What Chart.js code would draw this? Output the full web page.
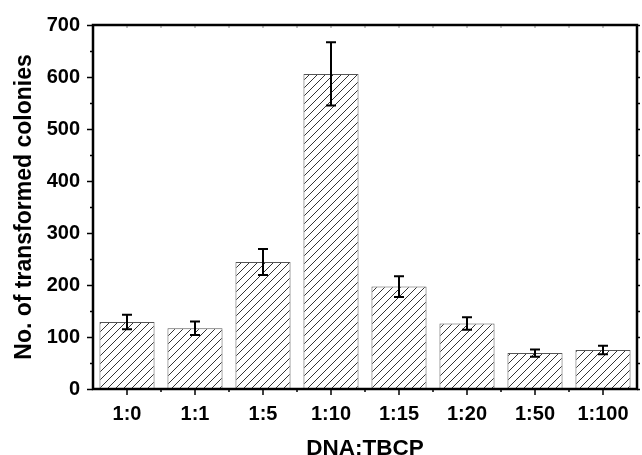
<!DOCTYPE html>
<html>
<head>
<meta charset="utf-8">
<script src="https://cdn.jsdelivr.net/npm/chart.js@4.4.0/dist/chart.umd.min.js"></script>
<style>
  html, body { margin: 0; padding: 0; background: #fff; }
  #wrap { width: 642px; height: 455px; }
</style>
</head>
<body>
<div id="wrap"><canvas id="myChart" width="642" height="455"></canvas></div>
<script>
// data
const ratios = ['1:0', '1:1', '1:5', '1:10', '1:15', '1:20', '1:50', '1:100'];
const colonies = [129, 117, 244, 606, 197, 126, 69, 75];
const errors = [14, 13, 25, 61, 20, 12, 7, 8];
const yTicks = [0, 100, 200, 300, 400, 500, 600, 700];

const FONT = "'Liberation Sans', Arial, sans-serif";

// diagonal hatch "/"
function makeHatch() {
  const c = document.createElement('canvas');
  c.width = 8; c.height = 8;
  const g = c.getContext('2d');
  g.fillStyle = '#fff';
  g.fillRect(0, 0, 8, 8);
  g.strokeStyle = '#000';
  g.lineWidth = 0.8;
  g.beginPath();
  g.moveTo(0, 8); g.lineTo(8, 0);
  g.moveTo(-2, 2); g.lineTo(2, -2);
  g.moveTo(6, 10); g.lineTo(10, 6);
  g.stroke();
  return document.getElementById('myChart').getContext('2d').createPattern(c, 'repeat');
}

// error bars drawn from the y scale
const errorBars = {
  id: 'errorBars',
  afterDatasetsDraw(chart) {
    const ctx = chart.ctx;
    const y = chart.scales.y;
    const meta = chart.getDatasetMeta(0);
    ctx.save();
    ctx.strokeStyle = '#000';
    ctx.lineWidth = 2;
    meta.data.forEach((bar, i) => {
      const top = y.getPixelForValue(colonies[i] + errors[i]);
      const bot = y.getPixelForValue(colonies[i] - errors[i]);
      ctx.beginPath();
      ctx.moveTo(bar.x, top); ctx.lineTo(bar.x, bot);
      ctx.moveTo(bar.x - 5, top); ctx.lineTo(bar.x + 5, top);
      ctx.moveTo(bar.x - 5, bot); ctx.lineTo(bar.x + 5, bot);
      ctx.stroke();
    });
    ctx.restore();
  }
};

// box frame with Origin-style tick marks
const frame = {
  id: 'frame',
  afterDraw(chart) {
    const ctx = chart.ctx;
    const a = chart.chartArea;
    const x = chart.scales.x, y = chart.scales.y;
    ctx.save();
    ctx.strokeStyle = '#000';
    ctx.lineWidth = 1.5;
    for (let v = 0; v <= 700; v += 50) {
      const p = Math.round(y.getPixelForValue(v)) + 0.5;
      const len = v % 100 === 0 ? 6 : 3;
      ctx.beginPath();
      ctx.moveTo(a.left - len, p); ctx.lineTo(a.left, p);
      ctx.moveTo(a.right, p); ctx.lineTo(a.right + 3, p);
      ctx.stroke();
    }
    const w = (a.right - a.left) / ratios.length;
    for (let i = 0; i < ratios.length; i++) {
      const c = x.getPixelForValue(i);
      ctx.beginPath();
      ctx.moveTo(c, a.bottom); ctx.lineTo(c, a.bottom + 6);
      ctx.stroke();
      if (i > 0) {
        const b = c - w / 2;
        ctx.beginPath();
        ctx.moveTo(b, a.bottom); ctx.lineTo(b, a.bottom + 3);
        ctx.stroke();
      }
    }
    ctx.strokeStyle = '#888';
    ctx.lineWidth = 1;
    for (let i = 0; i < ratios.length; i++) {
      const c = x.getPixelForValue(i);
      ctx.beginPath();
      ctx.moveTo(c, a.top); ctx.lineTo(c, a.top + 3);
      ctx.moveTo(c + w / 2, a.top); ctx.lineTo(c + w / 2, a.top + 3);
      ctx.stroke();
    }
    ctx.strokeStyle = '#000';
    ctx.lineWidth = 2.5;
    ctx.strokeRect(a.left, a.top, a.right - a.left, a.bottom - a.top);
    ctx.restore();
  }
};

const data = {
  labels: ratios,
  datasets: [{
    data: colonies,
    backgroundColor: makeHatch(),
    borderColor: '#555',
    borderWidth: 1,
    barPercentage: 0.81,
    categoryPercentage: 1
  }]
};

const config = {
  type: 'bar',
  data: data,
  options: {
    responsive: false,
    animation: false,
    layout: { padding: { top: 20, right: 5, left: 0, bottom: 0 } },
    plugins: { legend: { display: false }, tooltip: { enabled: false } },
    scales: {
      x: {
        grid: { display: false, drawTicks: false },
        border: { display: false },
        ticks: { color: '#000', padding: 13, font: { family: FONT, size: 20, weight: 'bold' } },
        title: { display: true, text: 'DNA:TBCP', color: '#000', padding: { top: 0, bottom: -5 },
                 font: { family: FONT, size: 22.5, weight: 'bold', lineHeight: 1 } },
        afterFit: s => { s.height = 66; }
      },
      y: {
        min: 0, max: 700,
        afterBuildTicks: s => { s.ticks = yTicks.map(v => ({ value: v })); },
        grid: { display: false, drawTicks: false },
        border: { display: false },
        ticks: { color: '#000', padding: 13, font: { family: FONT, size: 20, weight: 'bold' } },
        title: { display: true, text: 'No. of transformed colonies', color: '#000', padding: { top: 11, bottom: 0 },
                 font: { family: FONT, size: 23, weight: 'bold' } },
        afterFit: s => { s.width = 93; }
      }
    }
  },
  plugins: [errorBars, frame]
};

const myChart = new Chart(document.getElementById('myChart'), config);
</script>
</body>
</html>
